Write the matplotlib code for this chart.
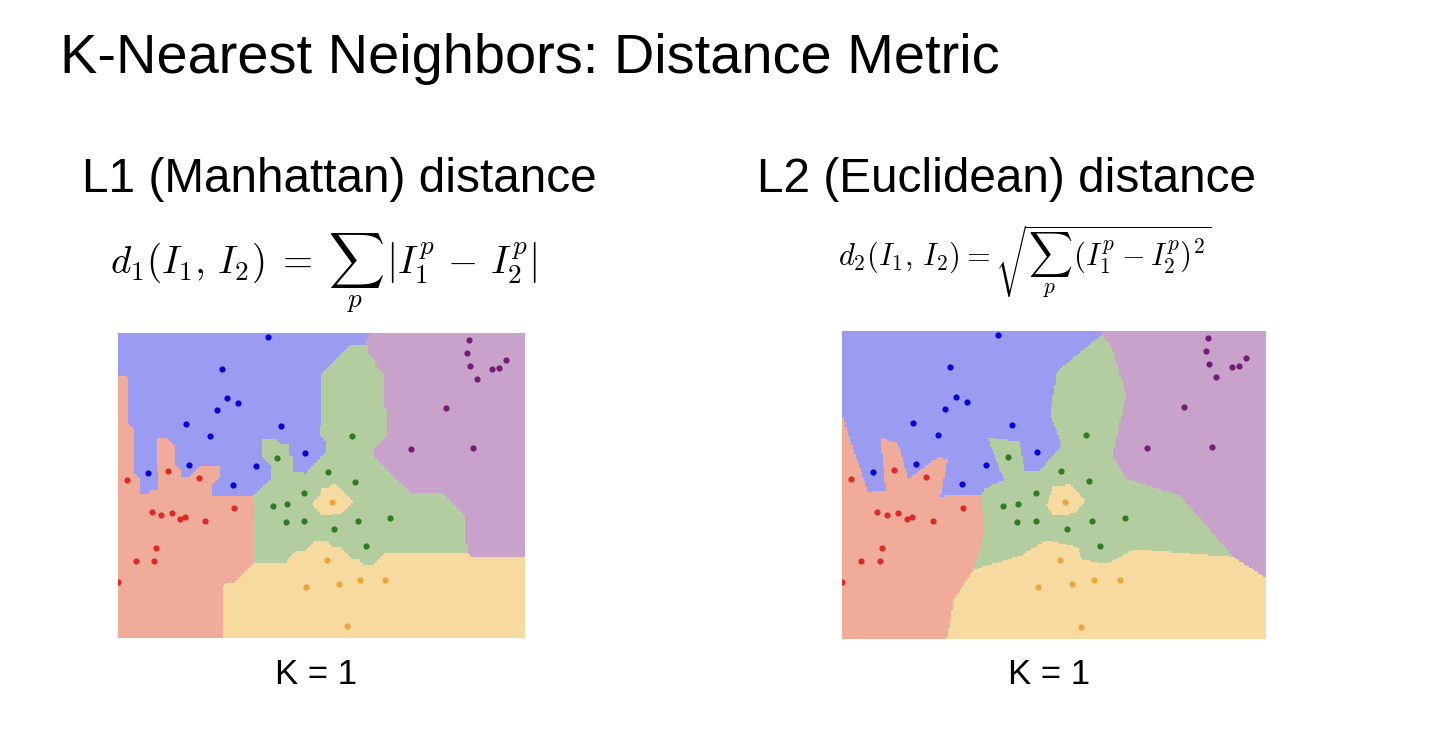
import numpy as np
import matplotlib
matplotlib.use("Agg")
import matplotlib.pyplot as plt
from matplotlib.colors import ListedColormap

plt.rcParams['font.family'] = ['Liberation Sans', 'DejaVu Sans']
plt.rcParams['mathtext.fontset'] = 'cm'

W, H = 1434, 736

# training points (x, y) in plot units, y grows downward
blue_x = [150, 104, 109, 120, 99, 68, 92, 163, 187, 138, 71, 30, 115]
blue_y = [4, 36, 65, 70, 77, 91, 103, 93, 120, 133, 132, 140, 152]
red_x = [9, 50, 81, 34, 43, 54, 62, 67, 87, 116, 38, 18, 36, 0]
red_y = [147, 138, 145, 179, 182, 180, 186, 184, 188, 175, 215, 228, 228, 249]
green_x = [159, 234, 210, 237, 155, 169, 186, 168, 186, 240, 272, 216, 248]
green_y = [125, 103, 139, 149, 173, 171, 160, 189, 188, 188, 185, 196, 213]
orange_x = [214, 188, 209, 221, 242, 267, 229]
orange_y = [169, 254, 227, 251, 247, 247, 293]
purple_x = [351, 349, 352, 359, 374, 381, 388, 328, 293, 355]
purple_y = [7, 20, 33, 46, 36, 35, 27, 75, 116, 115]

xlim = (0, 407)
ylim = (305, 0)

region_colors = ['#9b9bf2', '#f0ab9b', '#b3cda1', '#f7daa0', '#c9a2cb']
dot_colors = ['#0505d8', '#dc2a24', '#2f7c22', '#eea43a', '#761a78']

groups = [(blue_x, blue_y), (red_x, red_y), (green_x, green_y),
          (orange_x, orange_y), (purple_x, purple_y)]
px = np.concatenate([np.array(g[0], float) for g in groups])
py = np.concatenate([np.array(g[1], float) for g in groups])
lab = np.concatenate([np.full(len(g[0]), i) for i, g in enumerate(groups)])


def knn_map(metric):
    # label of the single nearest training point for every grid cell
    gx = np.arange(xlim[0], xlim[1], 1.5) + 0.75
    gy = np.arange(ylim[1], ylim[0], 1.5) + 0.75
    XX, YY = np.meshgrid(gx, gy)
    dx = XX[..., None] - px
    dy = YY[..., None] - py
    if metric == 'l1':
        d = np.abs(dx) + np.abs(dy)
    else:
        d = np.hypot(dx, dy)
    return lab[np.argmin(d, axis=-1)]


def fx(p):
    return p / W


def fy(p):
    return 1 - p / H


fig = plt.figure(figsize=(W / 100, H / 100), dpi=100)

fig.text(fx(60), fy(73), "K-Nearest Neighbors: Distance Metric",
         fontsize=40.3, va='baseline', ha='left')

fig.text(fx(82), fy(192), "L1 (Manhattan) distance", fontsize=34.4,
         va='baseline', ha='left')
fig.text(fx(757), fy(192), "L2 (Euclidean) distance", fontsize=34.4,
         va='baseline', ha='left')

fig.text(fx(110), fy(274),
         r"$d_1(I_1,\, I_2) \;=\; \sum_p \,\left|I_1^p \,-\, I_2^p\right|$",
         fontsize=28, va='baseline', ha='left')
fig.text(fx(838), fy(266),
         r"$d_2(I_1,\, I_2) = \sqrt{\sum_p \,\left(I_1^p - I_2^p\right)^2}$",
         fontsize=22, va='baseline', ha='left')

fig.text(fx(316), fy(684), "K = 1", fontsize=25, va='baseline', ha='center')
fig.text(fx(1049), fy(684), "K = 1", fontsize=25, va='baseline', ha='center')

boxes = [(118, 333, 407, 305, 'l1'), (842, 331, 424, 308, 'l2')]
cmap = ListedColormap(region_colors)
for x0, y0, w, h, metric in boxes:
    ax = fig.add_axes([fx(x0), fy(y0 + h), w / W, h / H])
    ax.imshow(knn_map(metric), cmap=cmap, vmin=-0.5, vmax=4.5,
              extent=(xlim[0], xlim[1], ylim[0], ylim[1]),
              interpolation='nearest', aspect='auto')
    for (gx, gy), c in zip(groups, dot_colors):
        ax.scatter(gx, gy, s=20, color=c, linewidths=0, zorder=3)
    ax.set_xlim(xlim)
    ax.set_ylim(ylim)
    ax.axis('off')

fig.savefig("out.png", dpi=100)
